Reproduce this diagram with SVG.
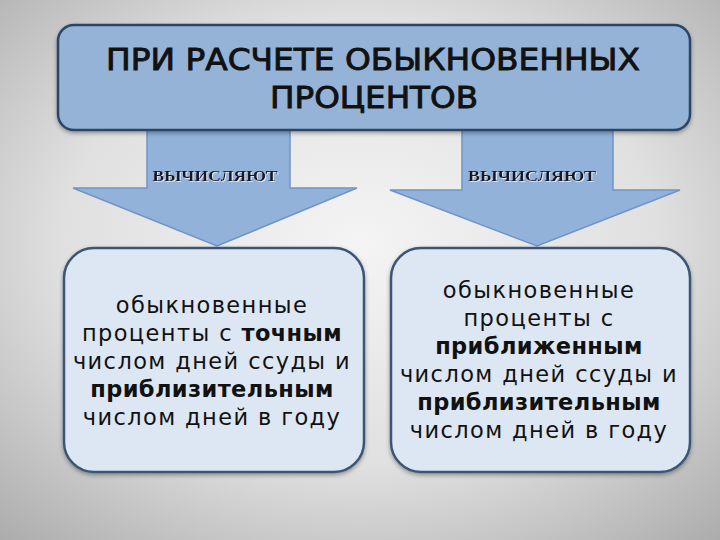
<svg xmlns="http://www.w3.org/2000/svg" width="720" height="540" viewBox="0 0 720 540">
<defs>
<radialGradient id="bg" cx="50%" cy="45%" r="75%">
<stop offset="0" stop-color="#f4f4f4"/>
<stop offset="0.55" stop-color="#e0e0e0"/>
<stop offset="1" stop-color="#ababab"/>
</radialGradient>
<filter id="sh" x="-10%" y="-10%" width="120%" height="130%">
<feDropShadow dx="0" dy="2" stdDeviation="2" flood-color="#000" flood-opacity="0.35"/>
</filter>
<filter id="ts" x="-5%" y="-20%" width="110%" height="150%">
<feDropShadow dx="1" dy="1" stdDeviation="0.6" flood-color="#ffffff" flood-opacity="0.7"/>
</filter>
</defs>
<style>
.arrow{fill:#92b2da;stroke:#6f94c6;stroke-width:1.5}
.top{fill:#95b3d7;stroke:#2c4566;stroke-width:2.5}
.box{fill:#dde7f3;stroke:#3b5576;stroke-width:2.5}
.title{font-family:"DejaVu Sans",sans-serif;font-size:30px;fill:#111;stroke:#111;stroke-width:0.9px;text-anchor:middle}
.lbl{font-family:"Liberation Serif",serif;font-weight:bold;font-size:15.5px;fill:#141428;text-anchor:middle}
.t{font-family:"DejaVu Sans",sans-serif;font-size:22.5px;letter-spacing:1.4px;fill:#111;text-anchor:middle}
.b{font-weight:bold;letter-spacing:0.4px}
</style>
<rect width="720" height="540" fill="url(#bg)"/>
<g id="connectors">
<g id="arrow-left">
<polygon class="arrow" points="147,126 290,126 290,188 357,188 217,246 73,188 147,188"/>
<text class="lbl" x="215" y="181" textLength="125" lengthAdjust="spacingAndGlyphs" filter="url(#ts)">ВЫЧИСЛЯЮТ</text>
</g>
<g id="arrow-right">
<polygon class="arrow" points="462,126 613,126 613,190 680,190 537,246 390,190 462,190"/>
<text class="lbl" x="532" y="181" textLength="128" lengthAdjust="spacingAndGlyphs" filter="url(#ts)">ВЫЧИСЛЯЮТ</text>
</g>
</g>
<g id="node-top">
<rect class="top" x="58" y="25" width="632" height="105" rx="16" filter="url(#sh)"/>
<text class="title" x="373" y="70" textLength="534" lengthAdjust="spacingAndGlyphs">ПРИ РАСЧЕТЕ ОБЫКНОВЕННЫХ</text>
<text class="title" x="374" y="108" textLength="208" lengthAdjust="spacingAndGlyphs">ПРОЦЕНТОВ</text>
</g>
<g id="node-left">
<rect class="box" x="64" y="248" width="300" height="224" rx="30" filter="url(#sh)"/>
<text class="t" x="212" y="313">обыкновенные</text>
<text class="t" x="212" y="341">проценты  с <tspan class="b">точным</tspan></text>
<text class="t" x="212" y="369">числом дней ссуды и</text>
<text class="t b" x="212" y="397">приблизительным</text>
<text class="t" x="212" y="425">числом дней в году</text>
</g>
<g id="node-right">
<rect class="box" x="391" y="248" width="299" height="224" rx="30" filter="url(#sh)"/>
<text class="t" x="539" y="298">обыкновенные</text>
<text class="t" x="539" y="326">проценты с</text>
<text class="t b" x="539" y="354">приближенным</text>
<text class="t" x="539" y="382">числом дней ссуды и</text>
<text class="t b" x="539" y="410">приблизительным</text>
<text class="t" x="539" y="438">числом дней в году</text>
</g>
</svg>
